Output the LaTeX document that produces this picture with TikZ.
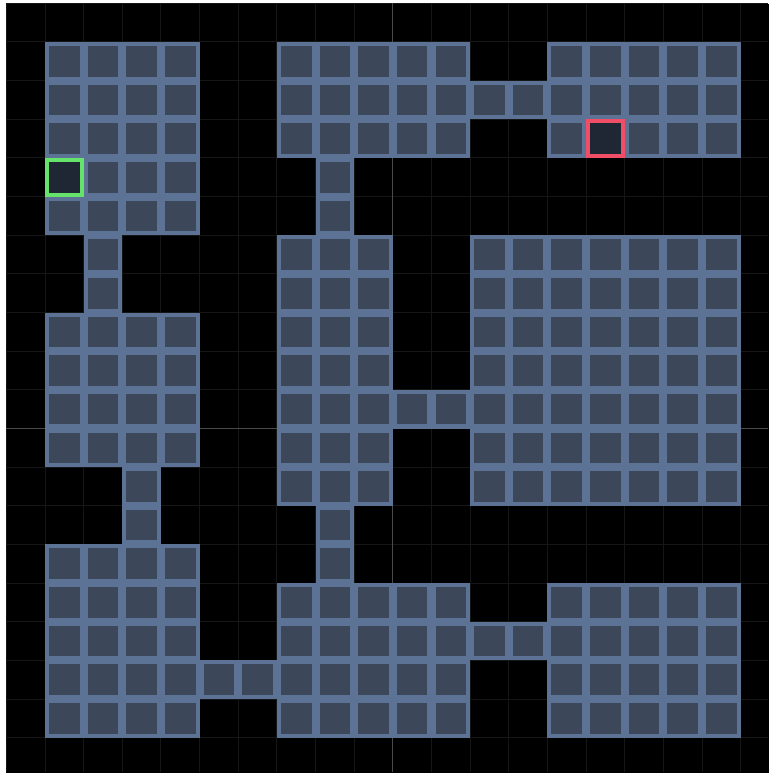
\documentclass[tikz,border=0pt]{standalone}
\usepackage{xcolor}
\usepackage{tikz}

\definecolor{tilefill}{HTML}{3C4859}
\definecolor{tileedge}{HTML}{5C7396}
\definecolor{holefill}{HTML}{1F2634}
\definecolor{startgreen}{HTML}{66E36A}
\definecolor{goalred}{HTML}{F04E66}
\definecolor{gridfaint}{HTML}{161616}
\definecolor{gridaxis}{HTML}{4A4A4A}

\begin{document}
\begin{tikzpicture}[
  x=1pt, y=-1pt,
  gridline/.style={draw=gridfaint, line width=1pt},
  axisline/.style={draw=gridaxis, line width=1pt},
  roomback/.style={fill=tileedge},
  tile/.style={fill=tilefill, draw=tileedge, line width=4pt},
  starttile/.style={fill=holefill, draw=startgreen, line width=4pt},
  goaltile/.style={fill=holefill, draw=goalred, line width=4pt}
]
\useasboundingbox (0,0) rectangle (769,773);
\fill[white] (0,0) rectangle (769,773);
\fill[black] (6,4) rectangle (769,773);

\begin{scope}[shift={(45,42)}, x=38.65pt, y=-38.65pt]
\def\inset{0.052}
\def\side{0.896}

% Background grid
\foreach \k in {-1,...,18} {
  \draw[gridline] (\k,-1) -- (\k,18.9);
  \draw[gridline] (-1,\k) -- (18.7,\k);
}
\draw[axisline] (9,-1) -- (9,18.9);
\draw[axisline] (-1,10) -- (18.7,10);

% Rooms and corridors: col/row/width/height
\foreach \c/\r/\w/\h in {
  0/0/4/5, 6/0/5/3, 13/0/5/3, 11/1/2/1, 7/3/1/2, 1/5/1/2,
  0/7/4/4, 6/5/3/7, 11/5/7/7, 9/9/2/1, 2/11/1/2, 7/12/1/2,
  0/13/4/5, 6/14/5/4, 13/14/5/4, 11/15/2/1, 4/16/2/1} {
  \fill[roomback] (\c,\r) rectangle +(\w,\h);
  \foreach \i in {1,...,\w} {
    \foreach \j in {1,...,\h} {
      \draw[tile] ({\c+\i-1+\inset},{\r+\j-1+\inset}) rectangle +(\side,\side);
    }
  }
}

% Start and goal
\draw[starttile] ({0+\inset},{3+\inset}) rectangle +(\side,\side);
\draw[goaltile] ({14+\inset},{2+\inset}) rectangle +(\side,\side);
\end{scope}
\end{tikzpicture}
\end{document}
